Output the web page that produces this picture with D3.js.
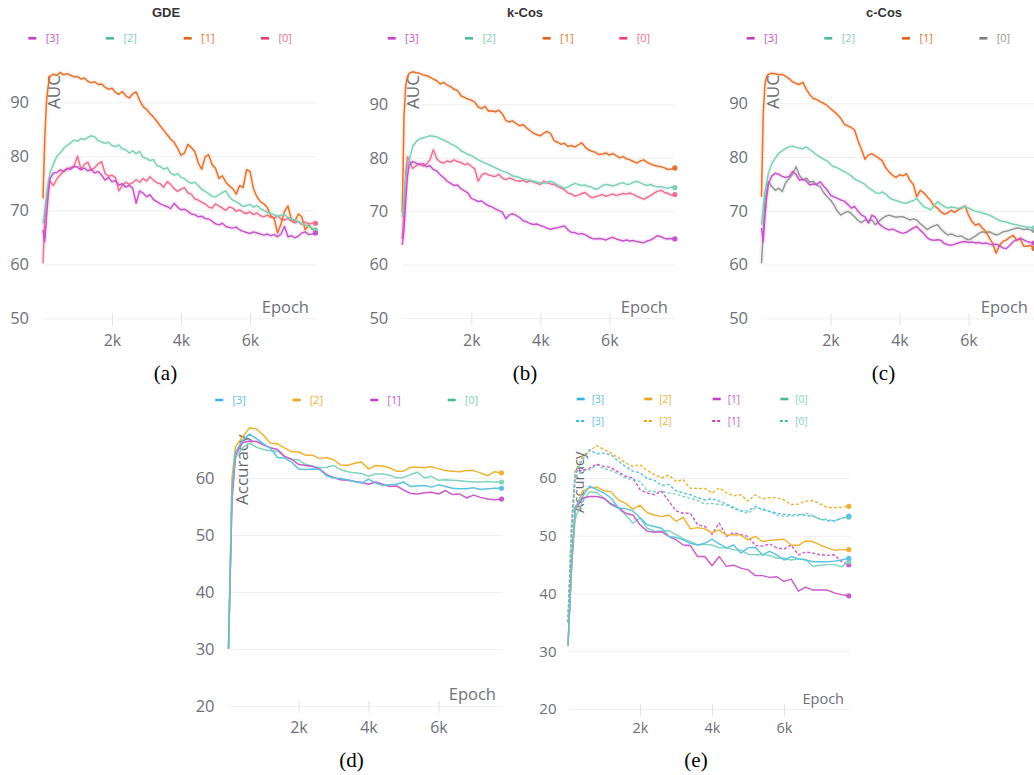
<!DOCTYPE html>
<html><head><meta charset="utf-8">
<script src="https://cdn.jsdelivr.net/npm/d3@7"></script>
<style>body{margin:0;background:#fff}svg{display:block}</style>
</head><body>
<svg id="c" width="1034" height="775"></svg>
<script>
// ---------- DATA ----------
const topEpochs = [0,50,100,150,
 200,300,400,500,600,700,800,900,1000,1100,
 1200,1300,1400,1500,1600,1700,1800,1900,2000,2100,
 2200,2300,2400,2500,2600,2700,2800,2900,3000,3100,
 3200,3300,3400,3500,3600,3700,3800,3900,4000,4100,
 4200,4300,4400,4500,4600,4700,4800,4900,5000,5100,
 5200,5300,5400,5500,5600,5700,5800,5900,6000,6100,
 6200,6300,6400,6500,6600,6700,6800,6900,7000,7100,
 7200,7300,7400,7500,7600,7700,7800,7900];
const accEpochs = [0,100,
 200,400,600,800,1000,1200,1400,1600,1800,2000,
 2200,2400,2600,2800,3000,3200,3400,3600,3800,4000,
 4200,4400,4600,4800,5000,5200,5400,5600,5800,6000,
 6200,6400,6600,6800,7000,7200,7400,7600,7800];
const seriesLabels = ['[3]','[2]','[1]','[0]'];
const panelTitles = ['GDE','k-Cos','c-Cos'];
const captions = ['(a)','(b)','(c)','(d)','(e)'];
const aucTicks = [50,60,70,80,90];
const accTicks = [20,30,40,50,60];
const epochTicks = [2000,4000,6000];

// (a) GDE
const gde3 = [66.4,64.2,68.5,72.8,
 75.8,76.9,77.0,77.5,77.2,77.8,77.6,78.1,78.0,77.5,
 77.8,77.3,77.6,76.9,77.2,76.5,75.6,76.1,75.3,75.5,
 74.7,74.9,74.3,74.6,74.1,71.3,73.6,73.2,72.5,72.9,
 72.0,71.6,71.2,70.9,70.7,70.3,71.3,70.6,70.1,70.2,
 69.8,69.3,69.2,68.8,68.9,68.5,68.4,68.0,67.5,67.3,
 67.6,67.0,66.8,66.7,66.9,66.4,66.1,65.9,65.7,66.0,
 65.8,65.6,65.4,65.6,65.3,65.5,65.1,65.6,67.0,65.1,
 65.3,64.9,65.2,65.8,66.0,65.5,65.6,65.8];
const gde2 = [67.6,70.0,72.5,75.0,
 76.9,78.5,80.0,80.6,81.5,82.0,82.5,83.0,82.8,83.3,
 83.1,83.5,83.8,83.6,82.9,82.7,82.4,82.6,82.0,81.8,
 82.1,81.4,81.2,80.6,81.0,80.5,80.9,79.8,79.6,79.2,
 79.4,78.3,78.1,77.6,77.9,76.9,76.5,76.8,76.1,75.9,
 75.3,75.0,75.2,74.6,73.9,73.5,73.1,72.6,72.5,72.9,
 73.3,73.6,72.5,71.9,71.6,71.2,70.7,70.9,71.1,70.6,
 70.9,70.3,70.0,69.6,69.4,69.2,68.9,69.1,69.2,68.7,
 68.4,68.2,67.9,67.6,67.3,67.0,66.7,66.4];
const gde1 = [72.2,83.0,90.0,93.0,
 94.8,95.2,95.0,95.5,95.1,95.3,95.0,94.7,94.8,94.3,
 94.5,93.9,93.6,93.8,93.3,93.4,92.8,92.4,92.6,91.8,
 91.5,92.0,91.2,90.8,91.6,91.9,90.4,89.2,88.7,87.9,
 87.3,86.5,85.6,84.8,84.0,83.2,82.6,81.5,80.2,80.6,
 82.2,81.6,80.9,78.8,77.6,79.9,80.3,78.5,77.8,75.9,
 76.4,75.2,74.5,74.0,73.0,74.6,74.2,77.5,77.2,74.0,
 72.5,71.6,71.2,70.5,69.0,68.5,65.8,67.5,69.8,70.8,
 68.3,68.0,69.3,68.8,66.4,67.3,66.5,66.2];
const gde0 = [60.2,68.0,71.9,73.5,
 75.4,74.6,75.8,76.6,77.2,77.6,77.9,78.2,80.0,77.6,
 78.5,78.9,77.4,77.9,78.6,79.0,76.8,76.3,76.5,76.0,
 73.6,74.6,75.2,74.8,75.1,75.7,75.2,75.9,75.4,76.2,
 75.6,75.1,74.9,74.3,75.3,74.8,74.0,73.5,73.9,74.2,
 73.2,73.0,72.1,71.9,71.5,71.2,70.6,70.4,71.2,70.8,
 70.4,70.0,70.6,70.4,69.8,70.1,69.6,69.4,69.7,69.2,
 69.5,69.0,68.8,69.1,68.7,68.6,68.9,68.4,68.2,68.5,
 68.0,67.7,67.9,67.4,67.8,67.5,67.6,67.6];

// (b) k-Cos
const kcos3 = [63.7,66.5,72.0,76.5,
 78.6,79.3,79.0,78.7,78.9,78.3,78.5,77.8,77.5,76.8,
 76.3,75.6,75.2,74.8,74.9,74.2,73.8,73.4,72.4,72.1,
 71.8,71.9,71.4,71.0,70.8,70.4,70.1,69.8,68.6,69.3,
 69.5,69.2,68.8,68.2,68.0,67.7,67.5,67.6,67.3,67.1,
 66.8,66.6,66.8,66.9,67.1,67.2,66.5,66.0,66.0,65.7,
 65.8,65.6,65.2,64.9,64.8,64.9,64.8,64.6,64.9,65.1,
 64.8,64.6,64.4,64.6,64.4,64.5,64.3,64.2,64.1,64.4,
 64.6,65.0,65.4,65.2,64.9,64.8,64.9,64.8];
const kcos2 = [68.8,72.5,76.0,78.2,
 79.6,82.1,83.0,83.5,83.7,83.9,84.1,84.0,83.9,83.6,
 83.3,83.0,82.6,82.3,81.9,81.3,81.0,80.6,80.4,80.0,
 79.6,79.3,79.0,78.7,78.4,78.1,77.8,77.5,77.3,77.0,
 76.6,76.5,76.3,76.0,75.9,75.8,75.6,75.4,75.3,75.2,
 75.4,75.6,75.3,74.9,74.6,74.3,74.5,74.9,75.2,75.0,
 74.8,74.9,74.6,74.5,74.1,74.3,74.8,75.0,74.9,74.7,
 74.9,75.2,75.3,75.0,75.1,75.4,75.6,75.3,75.0,74.8,
 75.0,74.7,74.5,74.6,74.4,74.3,74.5,74.4];
const kcos1 = [69.7,88.0,93.5,95.2,
 95.8,96.1,95.9,95.8,95.5,95.4,95.1,94.7,94.4,93.8,
 94.1,93.6,93.3,92.8,92.6,91.6,91.3,91.0,90.8,90.4,
 89.5,89.2,89.6,88.7,88.8,88.6,88.9,88.2,87.0,86.7,
 86.9,86.4,86.0,86.2,85.6,85.1,84.6,84.3,84.1,84.6,
 84.9,84.5,83.2,82.9,82.5,82.7,82.1,82.3,82.0,82.4,
 82.8,82.0,81.5,81.2,81.0,80.6,80.7,80.9,80.5,80.8,
 80.4,80.0,80.2,79.8,79.6,79.3,79.0,79.4,79.6,79.1,
 78.8,78.6,78.4,78.3,78.1,77.8,77.9,78.1];
const kcos0 = [64.8,70.0,77.0,80.2,
 79.5,78.0,78.5,78.9,78.4,78.8,79.6,81.5,79.8,79.2,
 79.0,79.4,79.2,79.6,79.3,79.1,78.7,78.9,78.4,77.9,
 75.6,76.8,77.1,76.8,76.6,76.5,76.9,76.2,75.9,76.2,
 76.0,75.7,75.6,75.8,75.4,75.7,75.5,75.2,75.0,75.6,
 75.3,75.1,75.0,74.6,74.3,74.0,73.4,73.2,72.8,73.0,
 73.3,73.5,72.9,72.5,72.7,72.9,73.1,72.8,73.0,73.2,
 72.9,73.1,73.3,73.2,73.4,73.1,72.8,72.5,72.2,72.6,
 72.9,73.4,73.7,73.9,73.5,73.3,73.0,73.1];

// (c) c-Cos
const ccos3 = [66.8,64.3,69.0,72.5,
 75.0,76.5,77.0,76.8,76.4,76.2,76.4,77.3,76.8,75.7,
 75.9,75.5,74.8,75.0,74.9,75.4,74.6,73.9,72.9,72.6,
 72.3,72.0,71.8,71.2,70.5,70.8,69.9,69.2,68.9,67.7,
 69.2,68.8,67.6,67.1,66.7,66.4,66.6,66.3,66.0,65.8,
 66.0,66.4,66.8,67.1,66.4,65.8,65.0,64.6,64.5,64.6,
 64.5,63.9,63.7,63.6,63.8,64.0,64.2,64.3,64.1,64.2,
 64.0,64.1,63.9,64.0,63.8,63.7,63.8,63.5,63.1,63.0,
 63.6,64.3,64.6,64.9,64.6,64.3,64.1,64.0];
const ccos2 = [67.4,70.5,73.5,75.2,
 77.0,78.8,79.8,80.7,81.2,81.6,81.9,82.0,81.8,81.7,
 81.5,81.9,81.4,80.9,80.4,80.0,79.6,79.3,78.6,78.2,
 78.0,77.6,77.3,76.9,76.5,75.9,75.6,75.3,74.9,74.3,
 73.9,73.4,73.2,73.5,73.1,72.5,72.1,71.9,71.7,71.5,
 71.4,71.7,71.9,72.3,71.5,70.8,70.5,70.2,70.9,71.7,
 71.2,70.8,70.5,70.7,70.6,70.4,70.6,70.8,70.5,70.2,
 69.9,69.8,69.6,69.4,69.2,68.9,68.5,68.2,68.0,67.9,
 67.7,67.5,67.4,67.2,67.1,67.0,66.9,66.8];
const ccos1 = [72.6,88.0,93.5,95.0,
 95.4,95.6,95.5,95.3,95.4,95.0,94.6,94.0,93.7,93.5,
 93.9,92.6,91.6,90.9,90.7,90.3,90.0,89.6,89.0,88.5,
 87.9,87.2,86.1,85.8,85.5,85.0,83.0,81.4,79.6,80.4,
 80.6,80.2,79.8,79.3,78.0,77.2,76.6,76.2,76.7,76.5,
 76.9,75.7,74.9,72.6,73.8,73.4,72.6,71.9,70.9,70.5,
 69.8,69.4,69.6,70.1,69.7,70.2,70.5,70.9,69.2,68.0,
 67.3,67.6,66.8,66.2,65.0,64.0,62.1,63.6,64.3,64.6,
 65.1,65.4,64.5,64.8,63.4,63.4,63.6,63.0];
const ccos0 = [60.2,66.0,72.0,73.5,
 75.4,74.5,73.8,74.2,73.6,75.2,76.0,76.8,78.2,76.6,
 75.7,76.1,75.3,75.5,74.8,74.5,73.4,72.6,72.0,71.1,
 69.9,69.2,69.6,69.9,69.5,68.9,68.2,67.8,68.3,68.0,
 68.3,67.4,68.0,68.6,69.0,69.2,69.0,68.8,68.9,68.9,
 68.6,68.3,68.5,68.3,67.6,67.1,66.5,66.9,67.2,67.4,
 66.6,66.0,65.5,65.7,65.4,65.2,65.3,64.9,64.6,64.9,
 65.3,65.8,66.1,65.9,66.1,65.8,65.5,65.7,66.1,66.2,
 66.4,66.6,66.8,66.7,66.5,66.6,66.4,66.4];

// (d) Accuracy
const d3acc = [30,58,
 64.5,66.6,67.7,66.9,66.0,65.2,63.6,63.5,62.8,61.6,
 61.5,61.6,61.5,60.4,60.0,59.9,59.7,59.4,59.1,59.8,
 59.1,58.7,58.8,58.9,59.3,58.5,58.6,58.7,58.4,58.8,
 58.5,58.2,58.1,58.1,58.3,58.0,58.1,58.2,58.2];
const d2acc = [30,60,
 65.5,67.2,68.8,68.6,67.5,66.1,66.0,65.3,64.6,64.6,
 64.0,64.0,63.4,63.6,63.2,62.3,62.2,62.6,62.8,61.6,
 62.2,62.1,61.8,61.2,61.2,61.9,61.9,61.8,62.0,61.6,
 61.3,61.2,61.1,61.3,61.3,60.9,60.4,61.1,60.9];
const d1acc = [30,56,
 64.0,66.2,66.5,66.4,65.8,65.3,65.0,63.8,63.3,62.4,
 62.2,62.0,61.6,60.6,60.1,59.7,59.6,59.4,59.2,58.9,
 59.3,58.9,58.5,58.6,57.9,57.3,57.2,57.4,57.5,57.2,
 57.8,57.1,57.2,56.5,57.0,56.6,56.3,56.2,56.3];
const d0acc = [30,57,
 63.5,65.3,66.1,65.4,65.0,64.8,64.7,63.8,63.3,63.2,
 62.4,62.1,61.8,61.9,62.2,61.5,61.1,60.9,60.8,60.3,
 60.7,60.7,60.5,60.0,60.1,60.6,61.0,60.0,60.3,59.6,
 59.7,59.6,59.5,59.4,59.3,59.3,59.4,59.3,59.3];

// (e) Accuracy, solid and dashed
const e3acc = [31,46,
 55.0,56.8,58.6,58.0,57.4,56.5,54.8,54.7,54.3,53.1,
 51.9,51.6,51.3,49.9,49.7,49.3,48.7,48.4,48.7,49.4,
 48.6,47.9,48.4,47.0,47.9,48.0,46.7,47.3,46.7,45.8,
 46.4,46.0,45.8,45.5,45.5,45.5,45.6,45.8,46.1];
const e2acc = [31,45,
 54.5,57.7,58.3,58.4,57.8,57.6,56.2,55.6,54.6,55.3,
 54.0,53.6,53.3,53.6,52.5,53.2,51.2,51.4,51.2,50.5,
 51.0,50.1,50.2,50.1,49.3,49.9,49.0,49.2,49.3,49.4,
 48.4,48.3,49.1,49.0,48.4,47.9,47.5,47.6,47.6];
const e1acc = [31,45,
 54.5,56.5,56.8,56.8,56.5,55.5,54.9,53.9,53.6,51.9,
 50.8,50.6,50.7,49.9,49.3,48.4,48.3,46.4,46.4,44.8,
 46.4,44.7,44.9,44.4,44.1,43.1,43.1,42.8,42.9,42.1,
 42.5,40.4,41.1,40.6,40.6,40.6,40.1,39.8,39.6];
const e0acc = [31,44,
 53.0,56.0,57.6,57.5,56.5,55.3,54.8,53.6,52.2,53.1,
 51.3,50.8,50.8,50.9,50.2,49.5,49.0,48.4,48.5,48.4,
 47.9,47.9,47.6,47.5,46.8,46.7,46.7,46.6,46.1,46.1,
 45.8,46.0,45.9,44.7,44.9,45.0,45.0,44.6,45.5];
const e3accDash = [35,51,
 60.5,63.2,64.9,64.2,64.3,64.0,62.9,62.0,61.2,60.9,
 59.9,59.6,58.7,58.9,57.8,57.4,57.1,56.6,56.2,56.4,
 56.0,55.5,54.9,54.3,54.3,55.1,54.5,54.2,53.9,53.7,
 53.6,53.7,53.5,53.4,52.9,52.6,52.6,53.0,53.4];
const e2accDash = [35,52,
 61.0,63.8,64.7,65.6,64.9,64.3,63.5,62.6,62.0,62.3,
 61.3,60.6,60.0,60.5,59.4,59.7,58.2,58.2,58.2,57.4,
 58.3,57.4,56.9,57.1,56.0,57.1,56.4,56.6,56.6,56.2,
 55.4,55.5,56.0,56.1,55.5,54.9,54.9,54.9,55.1];
const e1accDash = [35,52,
 61.2,61.3,61.7,62.4,62.0,61.8,61.0,60.3,60.0,58.0,
 57.4,57.1,57.7,56.0,54.3,53.9,53.9,51.9,51.6,50.2,
 52.2,49.9,50.5,50.2,49.9,48.3,48.2,48.6,47.9,47.7,
 48.4,46.7,47.2,47.0,46.7,46.6,46.7,45.5,45.0];
const e0accDash = [35,50,
 60.0,61.2,61.4,62.3,61.6,61.3,60.7,60.0,59.7,59.4,
 57.8,57.6,57.7,57.4,57.2,56.8,56.5,56.1,55.5,55.6,
 55.4,55.3,54.7,54.3,53.9,54.8,54.7,54.2,53.6,53.4,
 53.4,53.5,53.9,53.5,52.8,52.9,52.5,53.1,53.2];

// ---------- STYLE ----------
const FONT = "'Open Sans','Noto Sans',sans-serif";
const AXC = '#6e7079';
const topCol = {s3:'#c953ca', s2:'#7fd0b8', s1:'#e8702c', s0:'#ee7090', gray:'#969696'};
const topIcon = {s3:'#c63fc6', s2:'#4fb894', s1:'#e0601c', s0:'#ec3d6f', gray:'#7d7d7d'};
const botCol = {s3:'#58c3e2', s2:'#f0b12e', s1:'#cd57cd', s0:'#80d3be'};
const botIcon = {s3:'#36b5e0', s2:'#eea21a', s1:'#c540c7', s0:'#4cb894'};

const svg = d3.select('#c');

function drawPanel(p) {
  const g = svg.append('g');
  const x = d3.scaleLinear().domain([0, 2000]).range([p.x0, p.x0 + p.per2k]);
  const y = d3.scaleLinear().domain([p.ticks[0], p.ticks[p.ticks.length - 1]]).range([p.yBot, p.yTop]);

  // y axis + grid
  const ya = g.append('g').attr('transform', `translate(${p.left},0)`)
    .call(d3.axisLeft(y).tickValues(p.ticks).tickSize(-(p.right - p.left)).tickPadding(p.yPad).tickFormat(d3.format('d')));
  ya.select('.domain').remove();
  ya.selectAll('.tick line').attr('stroke', '#efefef');
  ya.selectAll('.tick text').attr('fill', AXC).style('font-size', p.yFont + 'px').style('font-family', FONT);

  // x axis
  const xa = g.append('g').attr('transform', `translate(0,${p.yBot})`)
    .call(d3.axisBottom(x).tickValues(epochTicks).tickSize(7).tickPadding(p.xPad).tickFormat(d => (d / 1000) + 'k'));
  xa.select('.domain').remove();
  xa.selectAll('.tick line').attr('stroke', '#e2e2e2').attr('y1', -5);
  xa.selectAll('.tick text').attr('fill', AXC).style('font-size', p.xFont + 'px').style('font-family', FONT);

  // axis names
  g.append('text').attr('transform', `translate(${p.left + p.nameDx},${p.nameY}) rotate(-90)`)
    .attr('fill', '#6a6a72').style('font-size', p.nameFont + 'px').style('font-family', FONT).text(p.yName);
  g.append('text').attr('x', p.right - p.epochDx).attr('y', p.epochY).attr('text-anchor', 'end')
    .attr('fill', AXC).style('font-size', p.epochFont + 'px').style('font-family', FONT).text('Epoch');

  // series
  const ser = p.series.slice().reverse();
  ser.forEach(s => {
    const pts = s.values.map((v, i) => [p.epochs[i], v]).filter(d => d[0] !== undefined);
    const line = d3.line().x(d => x(d[0])).y(d => y(d[1]));
    if (p.halo) {
      g.append('path').datum(pts).attr('d', line).attr('fill', 'none')
        .attr('stroke', s.color).attr('stroke-width', 5).attr('stroke-opacity', 0.1)
        .attr('stroke-linejoin', 'round');
    }
    g.append('path').datum(pts).attr('d', line).attr('fill', 'none')
      .attr('stroke', s.color).attr('stroke-width', p.lw)
      .attr('stroke-dasharray', s.dash ? '3,2' : null)
      .attr('stroke-linejoin', 'round');
    const last = pts[pts.length - 1];
    g.append('circle').attr('cx', x(last[0])).attr('cy', y(last[1])).attr('r', 2.6).attr('fill', s.color);
  });

  // title
  if (p.title) {
    g.append('text').attr('x', p.titleX).attr('y', 16.7).attr('text-anchor', 'middle')
      .attr('fill', '#333').style('font-size', '13px').style('font-weight', 'bold')
      .style('font-family', "'Liberation Sans',Arial,sans-serif").text(p.title);
  }

  // legend
  p.legend.forEach(row => {
    row.items.forEach((it, i) => {
      const cx = p.legendX[i];
      if (it.dash) {
        g.append('line').attr('x1', cx - 4.5).attr('x2', cx - 1.5).attr('y1', row.y).attr('y2', row.y)
          .attr('stroke', it.icon).attr('stroke-width', 2);
        g.append('line').attr('x1', cx + 0.5).attr('x2', cx + 3.5).attr('y1', row.y).attr('y2', row.y)
          .attr('stroke', it.icon).attr('stroke-width', 2);
      } else {
        g.append('line').attr('x1', cx - 4).attr('x2', cx + 4).attr('y1', row.y).attr('y2', row.y)
          .attr('stroke', it.icon).attr('stroke-width', 2.6);
      }
      g.append('text').attr('x', cx + p.legendDx).attr('y', row.y + 3.8)
        .attr('fill', it.color).style('font-size', p.legendFont + 'px').style('font-family', FONT).text(it.label);
    });
  });

  // caption
  svg.append('text').attr('x', p.capX).attr('y', p.capY).attr('text-anchor', 'middle')
    .attr('fill', '#000').style('font-size', '21px').style('font-family', "'Liberation Serif','Times New Roman',serif")
    .text(p.caption);
}

function topSeries(v3, v2, v1, v0, zeroKey) {
  return [
    {label: seriesLabels[0], values: v3, color: topCol.s3, icon: topIcon.s3},
    {label: seriesLabels[1], values: v2, color: topCol.s2, icon: topIcon.s2},
    {label: seriesLabels[2], values: v1, color: topCol.s1, icon: topIcon.s1},
    {label: seriesLabels[3], values: v0, color: topCol[zeroKey], icon: topIcon[zeroKey]}
  ];
}
const topBase = {epochs: topEpochs, ticks: aucTicks, per2k: 69, yPad: 14, yFont: 16.5, xFont: 16, xPad: 9.6,
  yName: 'AUC', nameDx: 17, nameY: 109, nameFont: 17, epochDx: 7, epochY: 312.7, epochFont: 16.5,
  legendDx: 13.4, legendFont: 11, halo: true, lw: 1.5, capY: 380};

const topPanels = [
  {x0: 43, left: 43, right: 316, yBot: 318.3, yTop: 102.3, titleX: 166, legendX: [32.3, 110, 187.7, 265],
   capX: 165.5, series: topSeries(gde3, gde2, gde1, gde0, 's0')},
  {x0: 402.3, left: 402.3, right: 675, yBot: 318, yTop: 104.3, titleX: 525, legendX: [391.7, 469, 546.7, 623.3],
   capX: 525, series: topSeries(kcos3, kcos2, kcos1, kcos0, 's0')},
  {x0: 761.5, left: 762, right: 1035, yBot: 318.3, yTop: 103.3, titleX: 884, legendX: [750.7, 828.3, 906, 983.3],
   capX: 883.5, series: topSeries(ccos3, ccos2, ccos1, ccos0, 'gray')}
];
topPanels.forEach((tp, i) => {
  const p = Object.assign({}, topBase, tp, {title: panelTitles[i], caption: captions[i]});
  p.legend = [{y: 38.3, items: p.series}];
  drawPanel(p);
});

// (d)
const dSeries = [
  {label: seriesLabels[0], values: d3acc, color: botCol.s3, icon: botIcon.s3},
  {label: seriesLabels[1], values: d2acc, color: botCol.s2, icon: botIcon.s2},
  {label: seriesLabels[2], values: d1acc, color: botCol.s1, icon: botIcon.s1},
  {label: seriesLabels[3], values: d0acc, color: botCol.s0, icon: botIcon.s0}
];
drawPanel({epochs: accEpochs, ticks: accTicks, x0: 228.5, per2k: 70, left: 229.5, right: 502, yBot: 706, yTop: 478,
  yPad: 15, yFont: 16.5, xFont: 16, xPad: 8.6, yName: 'Accuracy', nameDx: 18, nameY: 505, nameFont: 17,
  epochDx: 6, epochY: 700, epochFont: 16.5, legendX: [219.3, 296.7, 374.3, 451.7], legendDx: 13, legendFont: 11,
  halo: false, lw: 1.5, series: dSeries, legend: [{y: 400, items: dSeries}], caption: captions[3], capX: 351.5, capY: 767});

// (e)
const eSolid = [
  {label: seriesLabels[0], values: e3acc, color: botCol.s3, icon: botIcon.s3},
  {label: seriesLabels[1], values: e2acc, color: botCol.s2, icon: botIcon.s2},
  {label: seriesLabels[2], values: e1acc, color: botCol.s1, icon: botIcon.s1},
  {label: seriesLabels[3], values: e0acc, color: botCol.s0, icon: botIcon.s0}
];
const eDash = [
  {label: seriesLabels[0], values: e3accDash, color: botCol.s3, icon: botIcon.s3, dash: true},
  {label: seriesLabels[1], values: e2accDash, color: botCol.s2, icon: botIcon.s2, dash: true},
  {label: seriesLabels[2], values: e1accDash, color: botCol.s1, icon: botIcon.s1, dash: true},
  {label: seriesLabels[3], values: e0accDash, color: botCol.s0, icon: botIcon.s0, dash: true}
];
drawPanel({epochs: accEpochs, ticks: accTicks, x0: 568, per2k: 72, left: 568.5, right: 850, yBot: 709, yTop: 478,
  yPad: 12, yFont: 15, xFont: 14.5, xPad: 6.7, yName: 'Accuracy', nameDx: 15.5, nameY: 513, nameFont: 14.8,
  epochDx: 6, epochY: 704, epochFont: 14.5, legendX: [580.7, 648.3, 716.7, 784.3], legendDx: 11, legendFont: 10,
  halo: false, lw: 1.4, series: eSolid.concat(eDash), legend: [{y: 399, items: eSolid}, {y: 421, items: eDash}],
  caption: captions[4], capX: 696, capY: 767});
</script>
</body></html>
